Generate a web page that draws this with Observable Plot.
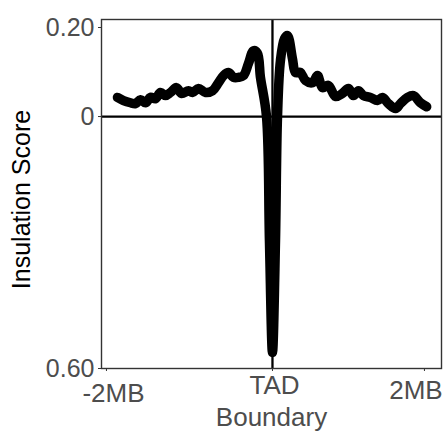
<!DOCTYPE html>
<html>
<head>
<meta charset="utf-8">
<script src="https://cdn.jsdelivr.net/npm/d3@7"></script>
<script src="https://cdn.jsdelivr.net/npm/@observablehq/plot@0.6"></script>
<style>
  html, body { margin: 0; padding: 0; background: white; }
</style>
</head>
<body>
<div id="chart"></div>
<script>
// Position relative to the TAD boundary (kb) and insulation score
const positionKb = [-2000, -1922, -1832, -1767, -1703, -1638, -1574, -1509, -1445, -1380, -1316, -1238, -1174, -1084, -1032, -955, -864, -774, -697, -632, -568, -503, -439, -374, -310, -245, -194, -155, -77, -39, 0, 39, 65, 103, 155, 194, 258, 297, 361, 426, 516, 581, 645, 722, 813, 903, 980, 1045, 1109, 1174, 1264, 1355, 1419, 1496, 1587, 1651, 1742, 1819, 1909, 1990];
const insulationScore = [0.043, 0.036, 0.031, 0.029, 0.038, 0.031, 0.043, 0.040, 0.054, 0.047, 0.054, 0.065, 0.052, 0.058, 0.054, 0.063, 0.054, 0.058, 0.076, 0.092, 0.099, 0.088, 0.088, 0.092, 0.119, 0.148, 0.142, 0.088, 0.000, -0.279, -0.530, -0.279, 0.000, 0.126, 0.175, 0.182, 0.130, 0.099, 0.099, 0.081, 0.076, 0.092, 0.065, 0.070, 0.045, 0.052, 0.063, 0.047, 0.058, 0.047, 0.043, 0.036, 0.043, 0.029, 0.018, 0.029, 0.043, 0.047, 0.031, 0.022];

const xTickValues = [-2142, 0, 1961];
const xTickLabels = ["-2MB", "TAD", "2MB"];
const yTickValues = [0.2, 0, -0.566];
const yTickLabels = ["0.20", "0", "0.60"];
const xTitle = "Boundary";
const yTitle = "Insulation Score";

const data = positionKb.map((x, i) => ({x, y: insulationScore[i]}));

const gray = "#4d4d4d";
const font = "'Liberation Sans', Arial, sans-serif";

const xLabelMark = (i, dx, pad) => Plot.axisX({
  ticks: [xTickValues[i]],
  tickFormat: () => xTickLabels[i],
  tickSize: 0,
  tickPadding: pad,
  dx,
  fontSize: 26,
  fill: gray,
  label: null
});

const chart = Plot.plot({
  width: 447,
  height: 433,
  marginTop: 19,
  marginBottom: 65,
  marginLeft: 101,
  marginRight: 6,
  style: {fontFamily: font, background: "white"},
  x: {domain: [-2206, 2181]},
  y: {domain: [-0.566, 0.218]},
  marks: [
    Plot.ruleY([0], {stroke: "black", strokeWidth: 2.3}),
    Plot.ruleX([0], {stroke: "black", strokeWidth: 2.3}),
    Plot.line(data, {
      x: "x", y: "y", stroke: "black", strokeWidth: 9.5,
      curve: "catmull-rom", strokeLinejoin: "round", strokeLinecap: "round"
    }),
    Plot.frame({stroke: "#333", strokeWidth: 1.4}),
    Plot.axisY({
      ticks: yTickValues,
      tickFormat: d => yTickLabels[yTickValues.indexOf(d)],
      tickSize: 3,
      tickPadding: 4,
      fontSize: 25,
      fill: gray,
      stroke: "#333",
      label: null
    }),
    Plot.axisX({
      ticks: xTickValues,
      tickFormat: () => "",
      tickSize: 3,
      stroke: "#333",
      label: null
    }),
    xLabelMark(0, 7, 15),
    xLabelMark(1, 2, 7),
    xLabelMark(2, -8.5, 12),
    Plot.text([xTitle], {
      frameAnchor: "bottom", lineAnchor: "top", dy: 39,
      fontSize: 26, fill: gray
    }),
    Plot.text([yTitle], {
      frameAnchor: "left", textAnchor: "middle", rotate: -90, dx: -80, dy: 5.5,
      fontSize: 25, fill: "black"
    })
  ]
});

document.getElementById("chart").appendChild(chart);
</script>
</body>
</html>
